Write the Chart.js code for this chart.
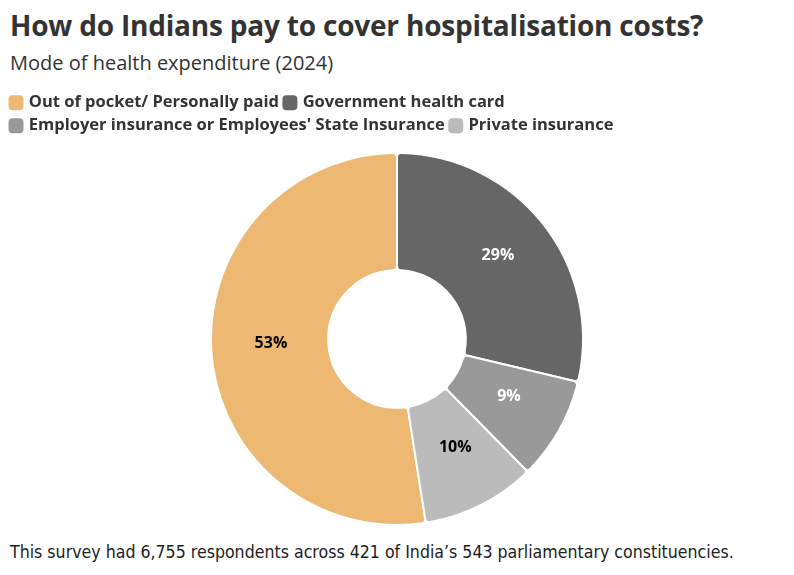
<!DOCTYPE html>
<html>
<head>
<meta charset="utf-8">
<script src="https://cdn.jsdelivr.net/npm/chart.js@4.4.0/dist/chart.umd.min.js"></script>
<style>
  body { margin: 0; background: #fff; width: 794px; height: 575px; overflow: hidden; position: relative; }
  #title { position: absolute; left: 10px; top: 6px; font: bold 28px "Open Sans", sans-serif; color: #333; letter-spacing: -0.2px; }
  #subtitle { position: absolute; left: 10px; top: 49px; font: 20px "Open Sans", sans-serif; color: #333; }
  #wrap { position: absolute; left: 0; top: 80px; width: 794px; height: 448px; }
  #note { position: absolute; left: 10px; top: 542px; font: 17.6px "DejaVu Sans Condensed", sans-serif; color: #222; }
</style>
</head>
<body>
<div id="title">How do Indians pay to cover hospitalisation costs?</div>
<div id="subtitle">Mode of health expenditure (2024)</div>
<div id="wrap"><canvas id="pie"></canvas></div>
<div id="note">This survey had 6,755 respondents across 421 of India’s 543 parliamentary constituencies.</div>
<script>
// data
const categories = ['Out of pocket/ Personally paid', 'Government health card', "Employer insurance or Employees' State Insurance", 'Private insurance'];
const shares = [53, 29, 9, 10];
const sliceColors = ['#edb871', '#666666', '#999999', '#bbbbbb'];
const labelColors = ['#000000', '#ffffff', '#ffffff', '#000000'];

// draws the % labels in the middle of each slice
const sliceLabels = {
    id: 'sliceLabels',
    afterDatasetsDraw(chart) {
        const ctx = chart.ctx;
        const meta = chart.getDatasetMeta(0);
        ctx.save();
        ctx.font = 'bold 16px "Open Sans", sans-serif';
        ctx.textAlign = 'center';
        ctx.textBaseline = 'middle';
        meta.data.forEach((arc, i) => {
            const p = arc.tooltipPosition();
            ctx.fillStyle = labelColors[i];
            // sits a little above the true middle, like the original
            ctx.fillText(shares[i] + '%', p.x + 1, p.y - 5);
        });
        ctx.restore();
    }
};

// a bit more room between the legend and the ring
const legendGap = {
    id: 'legendGap',
    beforeInit(chart) {
        const fit = chart.legend.fit;
        chart.legend.fit = function () {
            fit.call(this);
            this.height += 8;
        };
    }
};

const total = shares.reduce((a, b) => a + b, 0);

new Chart(document.getElementById('pie'), {
    type: 'doughnut',
    data: {
        labels: categories,
        datasets: [{
            data: shares,
            backgroundColor: sliceColors,
            borderColor: '#ffffff',
            borderWidth: 2,
            borderRadius: 4
        }]
    },
    options: {
        responsive: true,
        maintainAspectRatio: false,
        animation: false,
        cutout: '37%',
        rotation: -360 * shares[0] / total,
        layout: { padding: { top: 8, bottom: 2, left: 5, right: 5 } },
        plugins: {
            tooltip: { enabled: false },
            legend: {
                position: 'top',
                align: 'start',
                labels: {
                    color: '#333',
                    font: { family: '"Open Sans", sans-serif', size: 16.5, weight: 'bold' },
                    usePointStyle: true,
                    pointStyle: 'rectRounded',
                    boxWidth: 9,
                    boxHeight: 14,
                    padding: 6.5
                }
            }
        }
    },
    plugins: [legendGap, sliceLabels]
});
</script>
</body>
</html>
